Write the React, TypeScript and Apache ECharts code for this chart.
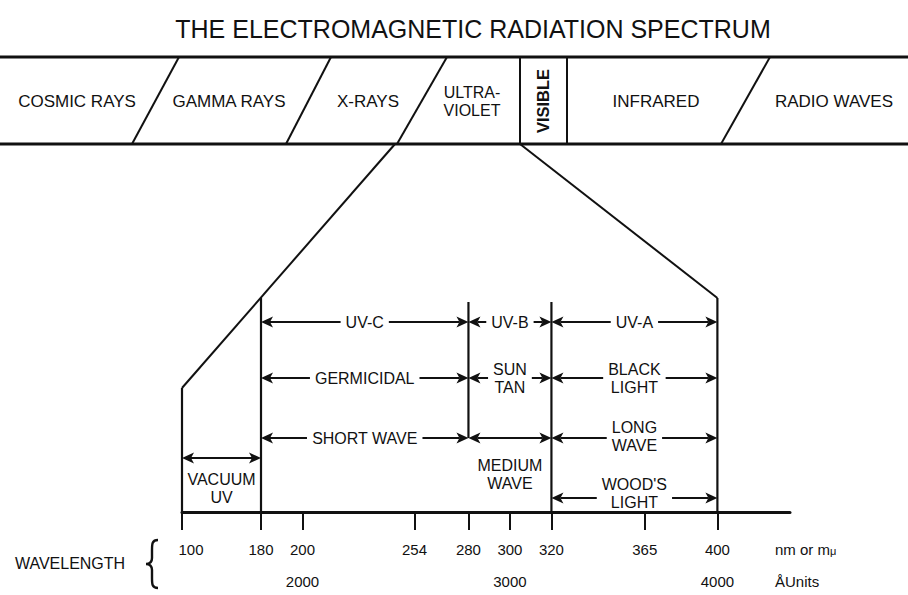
import React, { useEffect, useRef } from 'react';
import * as echarts from 'echarts';

// ---------------- data ----------------
const titleText = 'THE ELECTROMAGNETIC RADIATION SPECTRUM';
const spectrumBands = ['COSMIC RAYS', 'GAMMA RAYS', 'X-RAYS', 'ULTRA-\nVIOLET', 'VISIBLE', 'INFRARED', 'RADIO WAVES'];
const wavelengthTicks = [100, 180, 200, 254, 280, 300, 320, 365, 400];
const angstromTicks = [2000, 3000, 4000];
const uvEdges = [180, 280, 320, 400];
const uvClassNames = ['UV-C', 'UV-B', 'UV-A'];
const uvUseNames = ['GERMICIDAL', 'SUN\nTAN', 'BLACK\nLIGHT'];
const uvWaveNames = ['SHORT WAVE', 'MEDIUM\nWAVE', 'LONG\nWAVE'];
const vacuumUvName = 'VACUUM\nUV';
const vacuumUvRange = [100, 180];
const woodsLightName = "WOOD'S\nLIGHT";
const woodsLightRange = [320, 400];
const dividerNm = [100, 180, 280, 320, 400];
const unitNm = 'nm or m{mu|μ}';
const unitAngstrom = 'ÅUnits';
const axisName = 'WAVELENGTH';

// ---------------- layout / style ----------------
const INK = '#111111';
const FONT = '"Liberation Sans", Arial, Helvetica, sans-serif';
const GRID_TOP = 292;
const GRID_H = 220; // baseline at y = 512
const ROW = { uvClass: 190, use: 134, wave: 74, vacuum: 54, woods: 14 };
const DIVIDER_TOP: Record<number, number> = { 100: 124, 180: 214, 280: 210, 320: 210, 400: 214 };
const DIVIDER_BOTTOM: Record<number, number> = { 280: ROW.wave };
const BAND_TOP = 57;
const BAND_BOTTOM = 144;
const BAND_MID = 101;
const bandSlashes = [[179, 132], [331, 286], [447, 397], [770, 721]];
const visibleBox = [520, 567];
const bandLabelX = [77, 229, 368, 472, 543, 656, 834];
const LABEL_FS = 16;
const LABEL_LH = 18;

type Range = { name: string; from: number; to: number; level: number; mode: 'on' | 'below'; dy: number };

const rangesB: Range[] = [];
uvClassNames.forEach((n, i) => rangesB.push({ name: n, from: uvEdges[i], to: uvEdges[i + 1], level: ROW.uvClass, mode: 'on', dy: 0 }));
uvUseNames.forEach((n, i) => rangesB.push({ name: n, from: uvEdges[i], to: uvEdges[i + 1], level: ROW.use, mode: 'on', dy: 0 }));
uvWaveNames.forEach((n, i) =>
  rangesB.push({ name: n, from: uvEdges[i], to: uvEdges[i + 1], level: ROW.wave, mode: i === 1 ? 'below' : 'on', dy: i === 1 ? 36 : i === 2 ? -1.5 : 0 })
);
rangesB.push({ name: woodsLightName, from: woodsLightRange[0], to: woodsLightRange[1], level: ROW.woods, mode: 'on', dy: -5 });
const rangesA: Range[] = [{ name: vacuumUvName, from: vacuumUvRange[0], to: vacuumUvRange[1], level: ROW.vacuum, mode: 'below', dy: 30 }];

const makeRangeRender = (ranges: Range[]) => (params: any, api: any) => {
  const r = ranges[params.dataIndex];
  const p1 = api.coord([api.value(0), api.value(2)]);
  const p2 = api.coord([api.value(1), api.value(2)]);
  const y = p1[1];
  const x1 = p1[0];
  const x2 = p2[0];
  const AL = 12, AW = 5.5, NOTCH = 3;
  const children: any[] = [
    { type: 'line', shape: { x1: x1 + AL - NOTCH, y1: y, x2: x2 - AL + NOTCH, y2: y }, style: { stroke: INK, lineWidth: 2 } },
    { type: 'polygon', shape: { points: [[x1, y], [x1 + AL, y - AW], [x1 + AL - NOTCH, y], [x1 + AL, y + AW]] }, style: { fill: INK } },
    { type: 'polygon', shape: { points: [[x2, y], [x2 - AL, y - AW], [x2 - AL + NOTCH, y], [x2 - AL, y + AW]] }, style: { fill: INK } },
  ];
  const textStyle: any = {
    text: r.name,
    fontFamily: FONT,
    fontSize: LABEL_FS,
    lineHeight: LABEL_LH,
    fill: INK,
    align: 'center',
    verticalAlign: 'middle',
  };
  if (r.mode === 'on') {
    textStyle.backgroundColor = '#fff';
    textStyle.padding = [0, 5];
  }
  children.push({ type: 'text', x: (x1 + x2) / 2, y: y + r.dy, style: textStyle });
  return { type: 'group', children };
};

const dividerRender = (params: any, api: any) => {
  const top = api.coord([api.value(0), api.value(1)]);
  const bot = api.coord([api.value(0), api.value(2)]);
  return { type: 'line', shape: { x1: top[0], y1: top[1], x2: bot[0], y2: bot[1] }, style: { stroke: INK, lineWidth: 2.2 } };
};

const BRACE_D = 'M12 0 C6 0 6 4 6 10 L6 18 C6 22 4 24 0 24 C4 24 6 26 6 30 L6 38 C6 44 6 48 12 48';
let braceRegistered = false;

export default function App() {
  const ref = useRef<HTMLDivElement>(null);
  useEffect(() => {
    if (!ref.current) return;
    if (!braceRegistered) {
      echarts.graphic.registerShape('brace', echarts.graphic.extendPath(BRACE_D, {}));
      braceRegistered = true;
    }
    const chart = echarts.init(ref.current, undefined, { renderer: 'svg' });
    const labelBase = { fontFamily: FONT, fontSize: 15, color: INK };
    const axisLine = { show: true, onZero: false, lineStyle: { color: INK, width: 3 } };
    const tickStyle = { length: 18, lineStyle: { color: INK, width: 2 } };
    const splitLineOff = { show: false };
    const dividersA = dividerNm.filter((v) => v < 180).map((v) => [v, DIVIDER_TOP[v], DIVIDER_BOTTOM[v] ?? 0]);
    const dividersB = dividerNm.filter((v) => v >= 180).map((v) => [v, DIVIDER_TOP[v], DIVIDER_BOTTOM[v] ?? 0]);

    const option: any = {
      animation: false,
      backgroundColor: '#fff',
      grid: [
        { left: 182, top: GRID_TOP, width: 79, height: GRID_H, containLabel: false, outerBoundsMode: 'none' },
        { left: 261, top: GRID_TOP, width: 529, height: GRID_H, containLabel: false, outerBoundsMode: 'none' },
      ],
      xAxis: [
        {
          gridIndex: 0, type: 'value', min: 100, max: 180,
          axisLine, splitLine: splitLineOff,
          axisTick: { show: true, customValues: wavelengthTicks.filter((v) => v < 180), ...tickStyle },
          axisLabel: { customValues: wavelengthTicks.filter((v) => v < 180), margin: 30, padding: [0, 0, 0, 18], ...labelBase },
        },
        {
          gridIndex: 1, type: 'value', min: 180, max: 435,
          axisLine, splitLine: splitLineOff,
          axisTick: { show: true, customValues: wavelengthTicks.filter((v) => v >= 180), ...tickStyle },
          axisLabel: { customValues: wavelengthTicks.filter((v) => v >= 180), margin: 30, ...labelBase },
        },
        {
          gridIndex: 1, type: 'value', min: 180, max: 435, position: 'bottom',
          axisLine: { show: false }, axisTick: { show: false }, splitLine: splitLineOff,
          axisLabel: { customValues: angstromTicks.map((v) => v / 10), formatter: (v: number) => String(Math.round(v * 10)), margin: 62, ...labelBase },
        },
      ],
      yAxis: [
        { gridIndex: 0, type: 'value', min: 0, max: GRID_H, show: false },
        { gridIndex: 1, type: 'value', min: 0, max: GRID_H, show: false },
      ],
      series: [
        { type: 'custom', xAxisIndex: 0, yAxisIndex: 0, renderItem: dividerRender, data: dividersA, encode: { x: 0, y: [1, 2] }, silent: true },
        { type: 'custom', xAxisIndex: 1, yAxisIndex: 1, renderItem: dividerRender, data: dividersB, encode: { x: 0, y: [1, 2] }, silent: true },
        { type: 'custom', xAxisIndex: 0, yAxisIndex: 0, renderItem: makeRangeRender(rangesA), data: rangesA.map((r) => [r.from, r.to, r.level]), encode: { x: [0, 1], y: 2 }, silent: true },
        { type: 'custom', xAxisIndex: 1, yAxisIndex: 1, renderItem: makeRangeRender(rangesB), data: rangesB.map((r) => [r.from, r.to, r.level]), encode: { x: [0, 1], y: 2 }, silent: true },
      ],
    };
    chart.setOption(option);

    const pLeft = chart.convertToPixel({ gridIndex: 0 }, [dividerNm[0], DIVIDER_TOP[dividerNm[0]]]) as number[];
    const lastNm = dividerNm[dividerNm.length - 1];
    const pRight = chart.convertToPixel({ gridIndex: 1 }, [lastNm, DIVIDER_TOP[lastNm]]) as number[];

    const txt = (x: number, y: number, text: string, fontSize: number, extra: any = {}, elExtra: any = {}) => ({
      type: 'text', x, y, ...elExtra,
      style: { text, fontFamily: FONT, fontSize, fill: INK, align: 'center', verticalAlign: 'middle', ...extra },
    });
    const ln = (x1: number, y1: number, x2: number, y2: number, w: number) => ({
      type: 'line', shape: { x1, y1, x2, y2 }, style: { stroke: INK, lineWidth: w },
    });

    const graphic: any[] = [
      txt(473, 29, titleText, 25),
      ln(0, BAND_TOP, 908, BAND_TOP, 3),
      ln(0, BAND_BOTTOM, 908, BAND_BOTTOM, 3),
      ...bandSlashes.map(([t, b]) => ln(t, BAND_TOP, b, BAND_BOTTOM, 2)),
      ln(visibleBox[0], BAND_TOP, visibleBox[0], BAND_BOTTOM, 2),
      ln(visibleBox[1], BAND_TOP, visibleBox[1], BAND_BOTTOM, 2),
      ...spectrumBands.map((name, i) =>
        name === 'VISIBLE'
          ? txt(bandLabelX[i], BAND_MID, name, 16.5, { fontWeight: 'bold' }, { rotation: Math.PI / 2 })
          : name.includes('\n')
          ? txt(bandLabelX[i], BAND_MID, name, 16, { lineHeight: 18 })
          : txt(bandLabelX[i], BAND_MID, name, 17)
      ),
      // expansion of the UV section
      ln(bandSlashes[2][1] - 2, BAND_BOTTOM, pLeft[0], pLeft[1], 2),
      ln(visibleBox[0], BAND_BOTTOM, pRight[0], pRight[1], 2),
      // units and axis name
      txt(775, 549, unitNm, 15, { align: 'left', rich: { mu: { fontSize: 11, fontFamily: FONT, fill: INK, verticalAlign: 'bottom', padding: [4, 0, 0, 0] } } }),
      txt(775, 581, unitAngstrom, 15, { align: 'left' }),
      txt(70, 563, axisName, 16),
      { type: 'brace', x: 146, y: 540, style: { fill: 'none', stroke: INK, lineWidth: 2.4 } },
    ];
    chart.setOption({ graphic });

    return () => chart.dispose();
  }, []);
  return <div ref={ref} style={{ position: 'absolute', left: 0, top: 0, width: 908, height: 595, background: '#fff' }} />;
}
